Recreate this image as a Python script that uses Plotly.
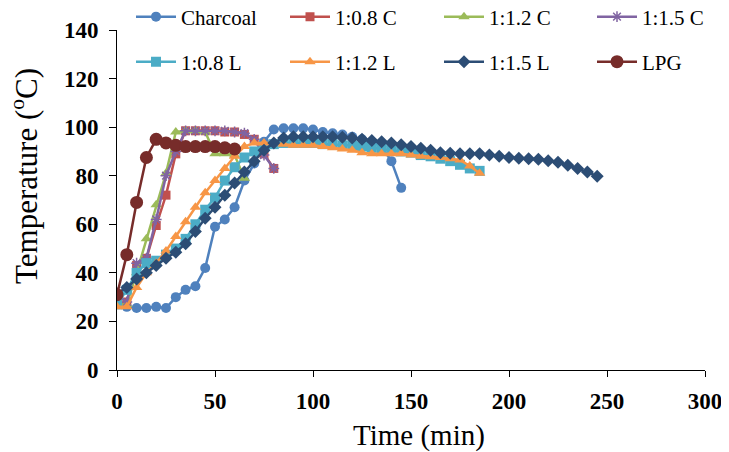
import plotly.graph_objects as go

def times(start, n, step=5):
    return [start + step * i for i in range(n)]

charcoal = [28, 26, 25.5, 25.5, 26, 25.5, 30, 33, 34.5, 42, 59, 62, 67, 78, 85, 94,
            99, 99.5, 99.5, 99.5, 99, 98, 97.5, 97, 96, 95, 94, 92, 86, 75]
c08 = [27, 28, 43, 46, 59.5, 72, 89, 98.5, 98.5, 98.5, 98.5, 98, 98, 97, 95, 89, 83]
c12 = [27, 27, 40, 54, 68, 81, 98, 98.5, 98.5, 98, 89, 89, 88.5, 79]
c15 = [31, 28, 44, 46, 62, 80, 90, 98.5, 98.5, 98.5, 98.5, 98.5, 98, 97.5, 95, 88.5, 83]
l08 = [27, 33, 40, 44, 45, 47.5, 50, 54, 60, 66, 71, 78, 83.5, 87.5, 90, 92, 93, 93.5,
       93.5, 93.5, 93.5, 93, 93, 92.5, 92.5, 92, 91.5, 91, 90.5, 90, 89.5, 88.5, 88, 87,
       86, 84.5, 83, 82]
l12 = [26, 26, 34, 40, 44, 49, 55, 61, 67, 73, 78, 83, 88, 92, 93.5, 93.5, 93.5, 93,
       92.5, 92.5, 92.5, 92, 91.5, 91, 90.5, 89.5, 89, 89, 89, 89, 88.5, 88, 87.8, 87.5,
       87, 86.5, 84, 81]
l15 = [31.5, 34, 37.5, 40, 43, 46, 48.5, 52, 57, 62.5, 67, 72, 77, 81.5, 86, 90.5, 93.5,
       95.5, 96, 96, 96, 96, 96, 95.8, 95.5, 95, 94.5, 94, 93.5, 92.8, 92, 91.3, 90.5,
       89.5, 89.2, 89, 89, 89, 88.5, 88, 87.5, 87.2, 87, 86.8, 86.2, 85.5, 84.3, 83, 81.5,
       79.8]
lpg = [31, 47.5, 69, 87.5, 95, 93.5, 92.5, 92, 92, 92, 92, 91.5, 91]

x_ticks = [0, 50, 100, 150, 200, 250, 300]
y_ticks = [0, 20, 40, 60, 80, 100, 120, 140]

series = [
    ("Charcoal", charcoal, "#4F81BD", "circle", 10),
    ("1:0.8 C", c08, "#C0504D", "square", 9),
    ("1:1.2 C", c12, "#9BBB59", "triangle-up", 10),
    ("1:1.5 C", c15, "#8064A2", "asterisk-open", 9),
    ("1:0.8 L", l08, "#4BACC6", "square", 10),
    ("1:1.2 L", l12, "#F79646", "triangle-up", 10),
    ("1:1.5 L", l15, "#2C4D75", "diamond", 10),
    ("LPG", lpg, "#772C2A", "circle", 13),
]

font = "Liberation Serif, Times New Roman, serif"

# plot area: 588 x 340 px; legend entries in a 4 x 2 grid above / at top of it
PW, PH = 588, 340
col_px = [14, 168, 322, 475]      # legend box left, px from plot left
row_px = [-13, 32]                # legend row centre, px below plot top

fig = go.Figure()
layout_legends = {}
for i, (name, vals, color, sym, size) in enumerate(series):
    key = "legend" if i == 0 else f"legend{i + 1}"
    fig.add_trace(go.Scatter(
        x=times(0, len(vals)), y=vals, name=name, mode="lines+markers",
        line=dict(color=color, width=2.5),
        marker=dict(symbol=sym, size=size, color=color,
                    line=dict(color=color, width=1.5 if sym == "asterisk-open" else 0)),
        legend=key, showlegend=True,
    ))
    r, c = divmod(i, 4)
    layout_legends[key] = dict(
        x=col_px[c] / PW, y=1 - row_px[r] / PH, xanchor="left", yanchor="middle",
        orientation="h", font=dict(family=font, size=21, color="black"),
        bgcolor="rgba(255,255,255,0)", itemwidth=40,
    )

# page body has an 8px default margin, so the figure is 8px smaller
fig.update_layout(
    width=721, height=444, showlegend=True,
    margin=dict(l=109, r=24, t=22, b=82, autoexpand=False),
    paper_bgcolor="white", plot_bgcolor="white",
    font=dict(family=font, color="black"),
    xaxis=dict(range=[0, 300], tickvals=x_ticks, ticks="outside", ticklen=6,
               tickwidth=1, tickcolor="black", showline=True, linecolor="black",
               linewidth=1, showgrid=False, zeroline=False, automargin=False,
               ticklabelstandoff=4,
               tickfont=dict(family=font, size=23, color="black", weight="bold")),
    yaxis=dict(range=[0, 140], tickvals=y_ticks, ticks="outside", ticklen=7,
               tickwidth=1, tickcolor="black", showline=True, linecolor="black",
               linewidth=1, showgrid=False, zeroline=False, automargin=False,
               ticklabelstandoff=6,
               tickfont=dict(family=font, size=23, color="black", weight="bold")),
    annotations=[
        dict(text="Time (min)", xref="paper", yref="paper", x=302 / PW, y=-65 / PH,
             xanchor="center", yanchor="middle", showarrow=False,
             font=dict(family=font, size=29, color="black")),
        dict(text="Temperature (<sup>o</sup>C)", xref="paper", yref="paper",
             x=-93 / PW, y=1 - 146 / PH, xanchor="center", yanchor="middle",
             textangle=-90, showarrow=False,
             font=dict(family=font, size=31, color="black")),
    ],
    **layout_legends,
)

fig.write_html("out.html")
